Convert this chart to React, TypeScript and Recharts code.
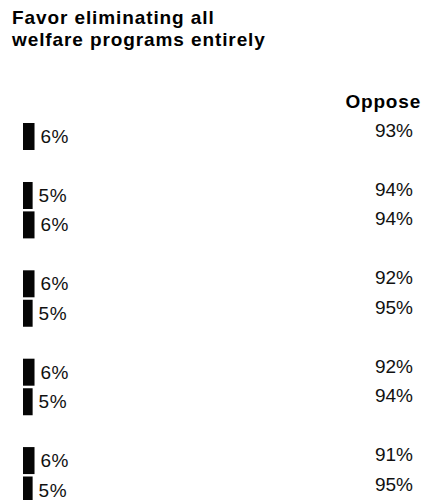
import { Bar, BarChart, LabelList, XAxis, YAxis } from "recharts";

// one row per line in the chart, blanks are the spacer rows between groups
const rowKeys = ["r1", "gap1", "r2a", "r2b", "gap2", "r3a", "r3b", "gap3", "r4a", "r4b", "gap4", "r5a", "r5b"];
const favor = [6, null, 5, 6, null, 6, 5, null, 6, 5, null, 6, 5];
const oppose = [93, null, 94, 94, null, 92, 95, null, 92, 94, null, 91, 95];

const titleLines = ["Favor eliminating all", "welfare programs entirely"];
const opposeHeader = "Oppose";

const data = rowKeys.map((row, i) => ({ row, favor: favor[i], oppose: oppose[i] }));

const font = "'Liberation Sans', Arial, Helvetica, sans-serif";

function FavorLabel(props: any) {
  const { x, y, width, height, value } = props;
  if (value == null) return null;
  return (
    <text
      x={Number(x) + Number(width) + 6}
      y={Number(y) + Number(height) / 2 + 6.5}
      fontFamily={font}
      fontSize={19}
      letterSpacing={0.5}
      fill="#111"
    >
      {`${value}%`}
    </text>
  );
}

function OpposeLabel(props: any) {
  const { y, height, value } = props;
  if (value == null) return null;
  return (
    <text
      x={413}
      y={Number(y) + Number(height) / 2 + 0.5}
      textAnchor="end"
      fontFamily={font}
      fontSize={19}
      fill="#111"
    >
      {`${value}%`}
    </text>
  );
}

export default function App() {
  return (
    <div
      style={{
        position: "absolute",
        left: 0,
        top: 0,
        width: 422,
        height: 500,
        overflow: "hidden",
        background: "#fff",
        fontFamily: font,
      }}
    >
      <div
        style={{
          position: "absolute",
          left: 12,
          top: 7,
          fontSize: 19,
          lineHeight: "22px",
          fontWeight: "bold",
          letterSpacing: 0.9,
          color: "#000",
          whiteSpace: "nowrap",
        }}
      >
        {titleLines.map((line) => (
          <div key={line}>{line}</div>
        ))}
      </div>
      <div
        style={{
          position: "absolute",
          right: 1,
          top: 91,
          fontSize: 19,
          lineHeight: "22px",
          fontWeight: "bold",
          letterSpacing: 0.8,
          color: "#000",
        }}
      >
        {opposeHeader}
      </div>
      <BarChart
        layout="vertical"
        width={422}
        height={506}
        data={data}
        margin={{ top: 122, right: 207, bottom: 1, left: 23 }}
      >
        <XAxis type="number" domain={[0, 100]} hide />
        <YAxis type="category" dataKey="row" hide />
        <Bar dataKey="favor" fill="#050505" barSize={27} isAnimationActive={false}>
          <LabelList dataKey="favor" content={FavorLabel} />
          <LabelList dataKey="oppose" content={OpposeLabel} />
        </Bar>
      </BarChart>
    </div>
  );
}
